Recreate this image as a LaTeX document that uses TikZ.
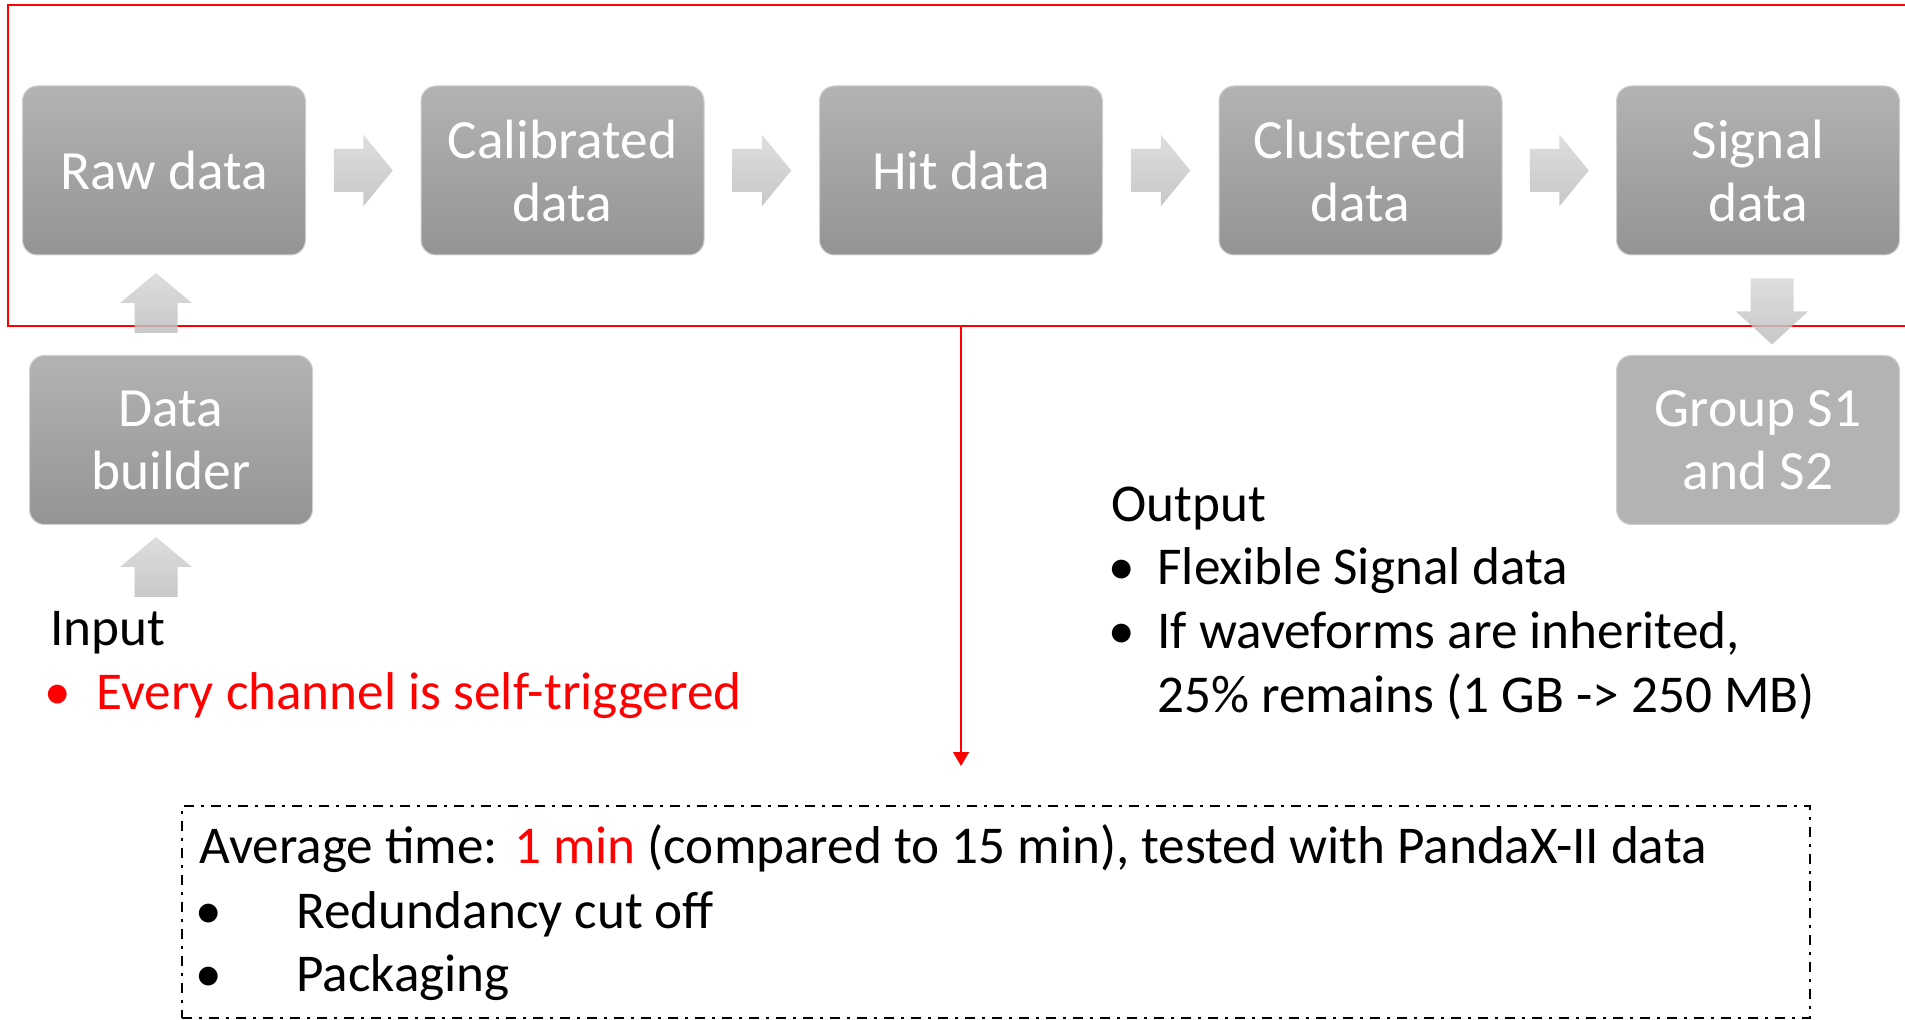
\documentclass[tikz,border=0pt]{standalone}
\usepackage{fontspec}
\setmainfont{Carlito}
\usetikzlibrary{calc,arrows.meta}

\definecolor{boxtop}{HTML}{B3B3B3}
\definecolor{boxbot}{HTML}{949494}
\definecolor{boxflat}{HTML}{B3B3B3}
\definecolor{boxline}{HTML}{D0D0D0}
\definecolor{arrlight}{HTML}{D8D8D8}
\definecolor{arrdark}{HTML}{BEBEBE}
\definecolor{pptred}{HTML}{FF0000}

\tikzset{
  stage/.style={rectangle, rounded corners=7.5pt, minimum width=141.5pt,
    minimum height=84.5pt, inner sep=0pt, top color=boxtop, bottom color=boxbot,
    draw=boxline, line width=0.5pt, text=white, align=center,
    font=\fontsize{27.7}{31.5}\selectfont},
  flatstage/.style={stage, top color=boxflat, bottom color=boxflat},
  txt/.style={inner sep=0pt, font=\fontsize{26.6}{31.5}\selectfont},
  redtxt/.style={txt, text=pptred},
  redframe/.style={draw=pptred, line width=1pt, inner sep=0pt},
  dashframe/.style={draw=black, line width=0.75pt,
    dash pattern=on 5pt off 3.5pt on 1.5pt off 3.5pt, inner sep=0pt},
  % block arrow pointing right; #1 = half length, #2 = head length
  pics/blockarrow/.style args={#1/#2}{code={
    \shade[top color=arrlight, bottom color=arrdark, fill opacity=0.85]
      (-#1,-21.5) -- (#1-#2,-21.5) -- (#1-#2,-36) -- (#1,0) -- (#1-#2,36)
      -- (#1-#2,21.5) -- (-#1,21.5) -- cycle;
  }},
}

\begin{document}
\begin{tikzpicture}[x=0.5pt, y=-0.5pt]
  \useasboundingbox (0,0) rectangle (1905,1020);

  % processing chain frame
  \node[redframe, minimum width=956pt, minimum height=160.5pt] (frame) at (964,165.5) {};

  % data stages
  \node[stage] (raw)   at (164,170.5)  {Raw data};
  \node[stage] (cal)   at (562.5,170.5) {Calibrated\\data};
  \node[stage] (hit)   at (961,170.5)  {Hit data};
  \node[stage] (clu)   at (1360.5,170.5) {Clustered\\data};
  \node[stage] (sig)   at (1758,170.5) {Signal\\data};
  \node[stage] (build) at (171,440)    {Data\\builder};
  \node[flatstage] (grp) at (1758,440) {Group S1\\and S2};

  % block arrows between stages
  \coordinate (a1) at ($(raw.east)!0.5!(cal.west)$);
  \coordinate (a2) at ($(cal.east)!0.5!(hit.west)$);
  \coordinate (a3) at ($(hit.east)!0.5!(clu.west)$);
  \coordinate (a4) at ($(clu.east)!0.5!(sig.west)$);
  \coordinate (u1) at (156,303);
  \coordinate (u2) at (156,567);
  \coordinate (d1) at (1772,311.5);
  \foreach \c in {a1,a2,a3,a4} \pic at (\c) {blockarrow=29.5/29.5};
  \pic[rotate=90] at (u1) {blockarrow=30/30};
  \pic[rotate=90] at (u2) {blockarrow=30/30};
  \pic[rotate=-90] at (d1) {blockarrow=33/33};

  % input notes
  \node[txt, anchor=base west] (inhead) at (50,646) {Input};
  \node[redtxt, anchor=base] (inbul) at (58,710) {•};
  \node[redtxt, anchor=base west] (initem) at (96,710) {Every channel is self-triggered};

  % output notes
  \node[txt, anchor=base west] (outhead) at (1111,522) {Output};
  \node[txt, anchor=base] (outbul1) at (1122,585) {•};
  \node[txt, anchor=base west] (outitem1) at (1157,585) {Flexible Signal data};
  \node[txt, anchor=base] (outbul2) at (1122,649) {•};
  \node[txt, anchor=base west] (outitem2) at (1157,649) {If waveforms are inherited,};
  \node[txt, anchor=base west] (outitem3) at (1157,712) {25\% remains (1 GB -> 250 MB)};

  % timing summary
  \node[dashframe, minimum width=814pt, minimum height=106pt] (summary) at (996,912) {};
  \coordinate (sumtop) at (961,766);
  \draw[pptred, line width=0.75pt, -{Triangle[width=8pt,length=7pt]}]
    (frame.south -| hit) -- (sumtop);
  \node[txt, anchor=base west] (avg) at (199,863)
    {Average time: \textcolor{pptred}{1 min} (compared to 15 min), tested with PandaX-II data};
  \node[txt, anchor=base] (sumbul1) at (209,928) {•};
  \node[txt, anchor=base west] (sumitem1) at (296,928) {Redundancy cut off};
  \node[txt, anchor=base] (sumbul2) at (209,991) {•};
  \node[txt, anchor=base west] (sumitem2) at (296,991) {Packaging};
\end{tikzpicture}
\end{document}
